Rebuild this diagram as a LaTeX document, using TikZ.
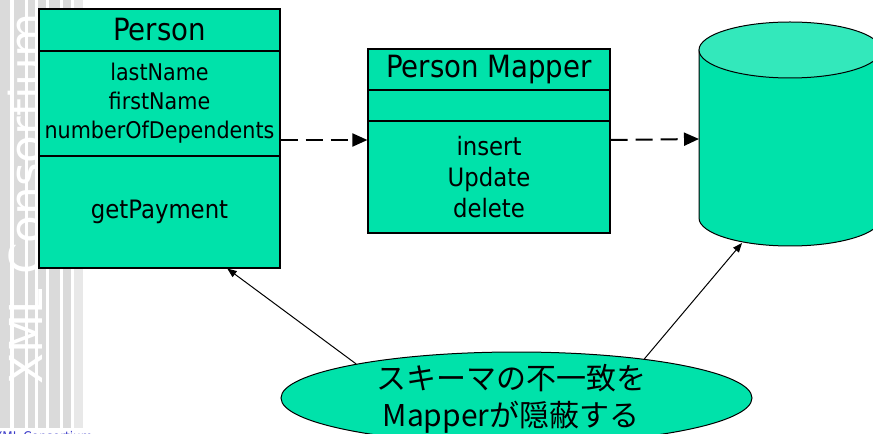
\documentclass[tikz,border=0pt]{standalone}
\usepackage{fontspec}
\setmainfont{DejaVu Sans}[FakeStretch=0.9]
\newfontfamily\wmfont{DejaVu Sans}
\newfontfamily\cjkfont{Noto Sans CJK JP}
\usetikzlibrary{shapes.geometric,arrows.meta,calc}
\definecolor{boxgreen}{RGB}{0,226,170}
\definecolor{lidgreen}{RGB}{51,232,187}
\definecolor{stripegray}{RGB}{218,218,218}
\definecolor{stripelight}{RGB}{232,232,232}
\definecolor{footblue}{RGB}{60,60,200}
\begin{document}
\begin{tikzpicture}[x=0.75pt,y=-0.75pt,
  compart/.style={draw=black, line width=0.9pt, fill=boxgreen, inner sep=0pt, anchor=center, align=center},
  headfont/.style={font=\fontsize{23}{27}\selectfont},
  attrfont/.style={font=\fontsize{17.25}{21.75}\selectfont},
  methfont/.style={font=\fontsize{19}{23.25}\selectfont},
  dasharrow/.style={line width=1.5pt, dash pattern=on 12.75pt off 6pt, -{Triangle[length=11.25pt,width=9.75pt]}},
  notearrow/.style={line width=0.75pt, -{Triangle[length=7pt,width=5.5pt]}}]
\useasboundingbox (0,0) rectangle (873,434);
\clip (0,0) rectangle (873,434);

% striped side band with the consortium mark
\foreach \a/\b in {0/10,14/25,28/35,38/46,49/60,63/71}
  \fill[stripegray] (\a,0) rectangle (\b,428);
\fill[stripelight] (74,0) rectangle (83,428);
\node[rotate=90, anchor=base west, inner sep=0pt, text=white,
      font=\wmfont\fontsize{34}{34}\selectfont] (mark) at (42,385) {XML Consortium};
\node[anchor=base west, inner sep=0pt, text=footblue,
      font=\fontsize{10}{12}\selectfont] (foot) at (-6,441) {XML Consortium};

% Person class
\node[compart, headfont, minimum width=180.75pt, minimum height=31.5pt] (phead) at (159.5,30) {Person};
\node[compart, attrfont, minimum width=180.75pt, minimum height=78.75pt] (pattr) at (159.5,103.5)
  {lastName\\firstName\\numberOfDependents};
\node[compart, methfont, minimum width=180.75pt, minimum height=84pt] (pmeth) at (159.5,212) {getPayment};

% Person Mapper class
\node[compart, headfont, minimum width=181.5pt, minimum height=30.75pt] (mhead) at (489,69.5) {Person Mapper};
\node[compart, minimum width=181.5pt, minimum height=23.25pt] (mattr) at (489,105.5) {};
\node[compart, methfont, minimum width=181.5pt, minimum height=84pt] (mmeth) at (489,177)
  {insert\\Update\\delete};

% database cylinder
\filldraw[fill=boxgreen, draw=black, line width=0.75pt]
  (699,50) -- (699,218) arc[start angle=180, end angle=360, x radius=68.25pt, y radius=21pt]
  -- (881,50) -- cycle;
\filldraw[fill=lidgreen, draw=black, line width=0.75pt]
  (790,50) ellipse [x radius=68.25pt, y radius=21pt];
\coordinate (dbside) at (699,139);
\coordinate (dbfoot) at (742,243);

% data flow
\coordinate (row) at (0,140);
\draw[dasharrow] (pattr.east |- row) -- (mmeth.west |- row);
\draw[dasharrow] (mmeth.east |- row) -- (dbside);

% note
\node[ellipse, draw=black, line width=0.75pt, fill=boxgreen, inner sep=0pt,
      minimum width=353.25pt, minimum height=69pt] (note) at (516.5,398) {};
\node[font=\cjkfont\fontsize{22.5}{27.75}\selectfont, align=center, inner sep=0pt] (notetext) at (511,399)
  {スキーマの不一致を\\Mapperが隠蔽する};
\draw[notearrow] (note.168) -- ($(pmeth.south west)!0.78!(pmeth.south east)$);
\draw[notearrow] (note.17) -- (dbfoot);
\end{tikzpicture}
\end{document}
